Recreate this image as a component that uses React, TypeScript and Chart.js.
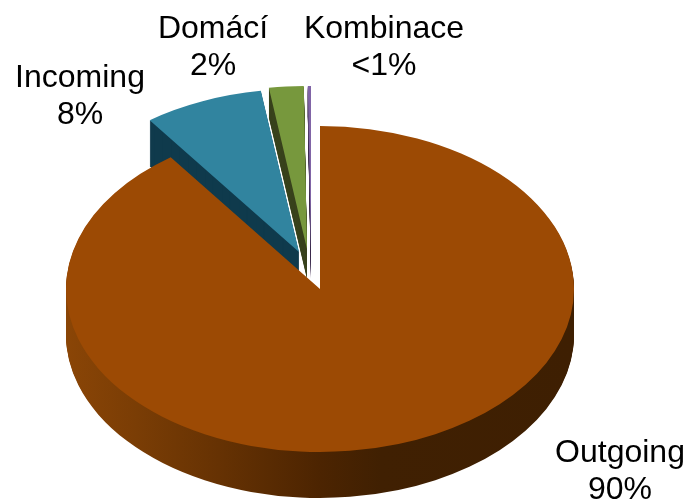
import React, { useEffect, useRef } from "react";
import { Chart, registerables } from "chart.js";

Chart.register(...registerables);

const categories = ["Outgoing", "Incoming", "Domácí", "Kombinace"];
const shareValues = [90, 7.6, 2.2, 0.2];
const shareLabels = ["90%", "8%", "2%", "<1%"];

const topColors = ["#9C4A04", "#31849F", "#77983D", "#8064A6"];
const wallColors = ["", "#0F3A4C", "#39431D", "#3F3150"];

// Exploded-slice displacement on screen, wall thickness, and label anchors.
const explodeX = [0, -21, -13, -9];
const explodeY = [0, -37, -40, -40];
const wallDepth = [46, 46, 30, 30];
const labelX = [620, 80, 213, 384];
const labelY = [462, 87, 38, 38];
const drawOrder = [3, 2, 1, 0];
const ellipseStretch = 254 / 163;
const LINE_HEIGHT = 37;

const pie3d = {
  id: "pie3d",
  beforeDatasetsDraw(chart: any) {
    const ctx: CanvasRenderingContext2D = chart.ctx;
    const arcs = chart.getDatasetMeta(0).data;
    const cx = arcs[0].x;

    const withPlacement = (dx: number, dy: number, paint: () => void) => {
      ctx.save();
      ctx.translate(dx + cx, dy);
      ctx.scale(ellipseStretch, 1);
      ctx.translate(-cx, 0);
      paint();
      ctx.restore();
    };

    // Shaded rim of the main slice: runs lit-to-dark from left to right.
    const r = arcs[0].outerRadius;
    const rim = ctx.createLinearGradient(cx - r, 0, cx + r, 0);
    rim.addColorStop(0, "#8A4506");
    rim.addColorStop(0.14, "#7A3D05");
    rim.addColorStop(0.3, "#663203");
    rim.addColorStop(0.5, "#4C2401");
    rim.addColorStop(0.62, "#402002");
    rim.addColorStop(1, "#3E1F02");

    for (const i of drawOrder) {
      const arc = arcs[i];
      const original = arc.options.backgroundColor;
      arc.options.backgroundColor = i === 0 ? rim : wallColors[i];
      for (let d = wallDepth[i]; d >= 1; d--) {
        withPlacement(explodeX[i], explodeY[i] + d, () => arc.draw(ctx));
      }
      arc.options.backgroundColor = original;
      withPlacement(explodeX[i], explodeY[i], () => arc.draw(ctx));
    }

    ctx.save();
    ctx.fillStyle = "#000000";
    ctx.font = '32px "Liberation Sans", Arial, sans-serif';
    ctx.textAlign = "center";
    ctx.textBaseline = "alphabetic";
    categories.forEach((name, i) => {
      ctx.fillText(name, labelX[i], labelY[i]);
      ctx.fillText(shareLabels[i], labelX[i], labelY[i] + LINE_HEIGHT);
    });
    ctx.restore();
    return false;
  },
};

export default function App() {
  const ref = useRef<HTMLCanvasElement>(null);

  useEffect(() => {
    document.body.style.margin = "0";
    const chart = new Chart(ref.current as HTMLCanvasElement, {
      type: "pie",
      data: {
        labels: categories,
        datasets: [
          {
            data: shareValues,
            backgroundColor: topColors,
            borderWidth: 0,
            hoverOffset: 0,
          },
        ],
      },
      options: {
        responsive: false,
        animation: false,
        layout: { padding: { left: 157, right: 206, top: 126, bottom: 48 } },
        plugins: { legend: { display: false }, tooltip: { enabled: false } },
      },
      plugins: [pie3d],
    } as any);
    return () => chart.destroy();
  }, []);

  return (
    <div style={{ width: 689, height: 500, background: "#fff" }}>
      <canvas ref={ref} width={689} height={500} style={{ display: "block" }} />
    </div>
  );
}
